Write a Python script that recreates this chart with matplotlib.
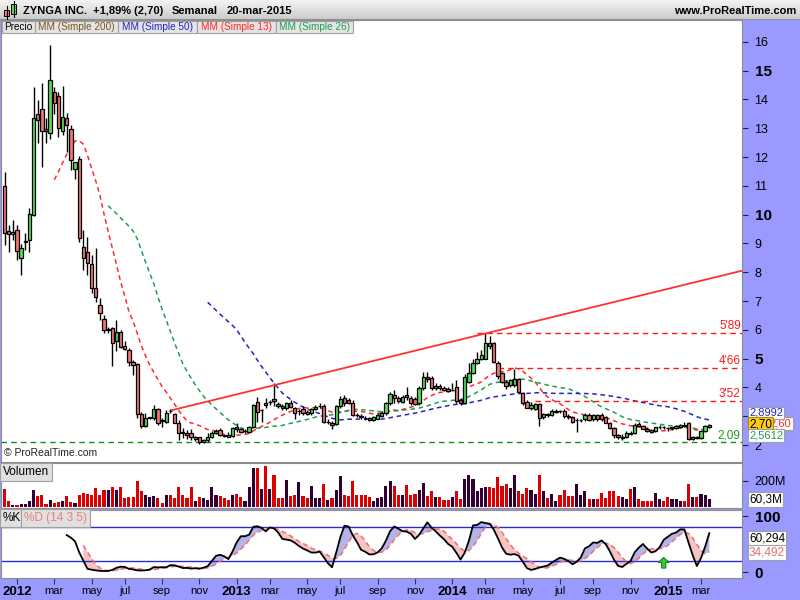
import datetime as dt
import numpy as np
import pandas as pd
import matplotlib
matplotlib.use('Agg')
import matplotlib.pyplot as plt
from matplotlib.patches import Rectangle

plt.rcParams['font.family'] = ['Liberation Sans', 'DejaVu Sans']

# === DATA: weekly bars, bar 0 = week of 12-dec-2011 (IPO week) ===
opens = [10.99, 9.44, 9.33, 9.48, 8.48, 9.05, 9.12, 9.97, 13.51, 13.65,
         12.96, 12.85, 14.25, 14.12, 12.91, 13.34, 12.96, 11.58, 11.92, 8.89,
         8.69, 8.28, 7.44, 6.86, 6.36, 5.98, 6.06, 5.60, 5.94, 5.45,
         5.31, 4.88, 4.81, 3.07, 2.66, 2.94, 2.93, 3.24, 2.86, 2.81,
         3.19, 3.07, 2.78, 2.44, 2.40, 2.40, 2.22, 2.27, 2.10, 2.18,
         2.29, 2.43, 2.52, 2.33, 2.33, 2.30, 2.64, 2.55, 2.48, 2.46,
         2.61, 3.50, 3.20, 3.45, 3.48, 3.60, 3.42, 3.35, 3.28, 3.45,
         3.27, 3.18, 3.26, 3.15, 3.12, 3.26, 3.36, 3.36, 2.80, 2.78,
         2.74, 3.37, 3.62, 3.55, 3.45, 3.05, 3.00, 2.95, 2.93, 2.88,
         2.92, 3.00, 3.10, 3.45, 3.72, 3.64, 3.50, 3.75, 3.64, 3.60,
         3.45, 3.97, 4.37, 4.31, 3.97, 4.06, 3.97, 3.95, 3.90, 4.02,
         3.56, 3.45, 4.20, 4.49, 4.83, 4.97, 5.00, 5.53, 5.53, 4.85,
         4.49, 4.20, 4.09, 4.09, 4.28, 3.81, 3.50, 3.28, 3.26, 3.42,
         2.97, 3.07, 3.04, 3.16, 3.19, 3.19, 3.01, 2.96, 2.87, 2.87,
         2.89, 3.04, 2.89, 3.04, 3.04, 2.96, 2.77, 2.58, 2.35, 2.23,
         2.27, 2.43, 2.40, 2.73, 2.66, 2.56, 2.52, 2.48, 2.62, 2.63,
         2.60, 2.58, 2.58, 2.62, 2.68, 2.75, 2.22, 2.27, 2.25, 2.50,
         2.62]
highs = [11.49, 9.63, 9.81, 9.63, 8.98, 9.35, 10.22, 14.44, 13.98, 14.56,
         13.34, 15.89, 14.44, 14.27, 14.46, 13.54, 13.11, 11.84, 12.04, 9.48,
         9.23, 8.60, 8.83, 7.09, 6.51, 6.10, 6.10, 6.34, 6.00, 5.60,
         5.37, 4.96, 4.85, 3.13, 3.11, 2.98, 3.39, 3.28, 2.93, 3.22,
         3.24, 3.11, 2.87, 2.58, 2.53, 2.54, 2.30, 2.29, 2.22, 2.40,
         2.50, 2.55, 2.58, 2.38, 2.45, 2.62, 2.75, 2.60, 2.55, 2.65,
         3.42, 3.67, 3.25, 3.62, 3.55, 4.15, 3.48, 3.42, 3.50, 3.55,
         3.32, 3.25, 3.35, 3.22, 3.30, 3.40, 3.45, 3.42, 2.90, 2.82,
         3.40, 3.70, 3.72, 3.62, 3.55, 3.12, 3.08, 3.02, 2.98, 3.00,
         3.10, 3.18, 3.50, 3.85, 3.90, 3.70, 3.72, 4.00, 3.70, 3.65,
         4.05, 4.55, 4.55, 4.40, 4.15, 4.12, 4.05, 4.00, 4.17, 4.27,
         3.62, 4.45, 4.85, 4.97, 5.24, 5.30, 5.89, 5.80, 5.58, 4.90,
         4.55, 4.25, 4.30, 4.63, 4.32, 3.85, 3.55, 3.48, 3.45, 3.45,
         3.10, 3.12, 3.25, 3.25, 3.22, 3.24, 3.08, 3.00, 2.95, 2.92,
         3.10, 3.10, 3.08, 3.08, 3.10, 3.02, 2.80, 2.62, 2.38, 2.38,
         2.48, 2.50, 2.75, 2.80, 2.70, 2.62, 2.56, 2.64, 2.68, 2.66,
         2.64, 2.64, 2.70, 2.72, 2.80, 2.80, 2.30, 2.32, 2.50, 2.68,
         2.72]
lows = [8.94, 8.71, 9.12, 8.42, 7.90, 8.77, 8.71, 9.95, 12.47, 11.66,
        12.47, 12.62, 13.51, 12.70, 12.76, 12.18, 11.56, 11.23, 9.06, 8.07,
        7.90, 7.27, 6.98, 6.34, 5.88, 5.88, 4.73, 5.25, 5.37, 5.30,
        4.73, 4.44, 2.93, 2.58, 2.64, 2.90, 2.87, 2.70, 2.64, 2.75,
        3.10, 2.75, 2.17, 2.23, 2.20, 2.18, 2.15, 2.05, 2.08, 2.12,
        2.25, 2.38, 2.30, 2.28, 2.27, 2.28, 2.46, 2.40, 2.40, 2.42,
        2.58, 2.80, 2.80, 3.30, 3.40, 3.35, 3.28, 3.20, 3.22, 3.30,
        2.90, 3.05, 3.05, 3.05, 3.05, 3.20, 3.30, 2.75, 2.72, 2.55,
        2.70, 3.30, 3.35, 3.42, 3.00, 2.98, 2.90, 2.88, 2.82, 2.85,
        2.90, 2.96, 3.05, 3.40, 3.45, 3.45, 3.45, 3.55, 3.40, 3.38,
        3.40, 3.90, 4.20, 3.90, 3.92, 3.92, 3.88, 3.85, 3.86, 3.45,
        3.40, 3.42, 4.15, 4.45, 4.80, 4.95, 4.98, 5.35, 4.85, 4.30,
        4.15, 3.95, 4.00, 4.00, 3.80, 3.40, 3.28, 3.20, 3.20, 2.66,
        2.90, 2.98, 3.00, 3.10, 3.12, 2.95, 2.92, 2.78, 2.45, 2.80,
        2.85, 2.85, 2.85, 2.85, 2.85, 2.76, 2.55, 2.25, 2.20, 2.18,
        2.25, 2.35, 2.38, 2.65, 2.55, 2.45, 2.42, 2.44, 2.55, 2.55,
        2.50, 2.52, 2.55, 2.58, 2.62, 2.18, 2.18, 2.22, 2.22, 2.46,
        2.58]
closes = [9.35, 9.33, 9.40, 8.75, 8.83, 9.10, 10.02, 13.34, 13.30, 12.89,
          12.89, 14.66, 13.86, 13.00, 13.38, 13.11, 11.90, 11.82, 9.18, 8.48,
          8.31, 7.44, 7.13, 6.57, 6.00, 6.04, 5.54, 5.94, 5.40, 5.33,
          4.88, 4.79, 3.07, 2.67, 2.93, 2.96, 3.24, 2.75, 2.83, 3.12,
          3.17, 2.78, 2.43, 2.42, 2.35, 2.28, 2.27, 2.10, 2.18, 2.29,
          2.43, 2.50, 2.33, 2.32, 2.29, 2.58, 2.55, 2.44, 2.50, 2.61,
          3.39, 3.15, 3.22, 3.38, 3.50, 3.52, 3.35, 3.28, 3.45, 3.33,
          3.12, 3.19, 3.10, 3.07, 3.26, 3.32, 3.36, 2.81, 2.81, 2.70,
          3.37, 3.58, 3.45, 3.45, 3.05, 3.03, 2.96, 2.93, 2.86, 2.97,
          3.05, 3.12, 3.45, 3.77, 3.62, 3.52, 3.68, 3.67, 3.45, 3.43,
          3.97, 4.35, 4.28, 3.97, 4.06, 3.97, 3.91, 3.89, 3.92, 3.53,
          3.47, 4.35, 4.49, 4.83, 4.97, 5.13, 5.53, 5.44, 4.89, 4.39,
          4.20, 4.05, 4.26, 4.28, 3.85, 3.47, 3.30, 3.40, 3.42, 2.93,
          3.07, 3.05, 3.19, 3.19, 3.18, 3.00, 2.96, 2.81, 2.87, 2.88,
          3.04, 2.87, 3.04, 2.89, 2.89, 2.77, 2.58, 2.35, 2.27, 2.27,
          2.43, 2.38, 2.70, 2.66, 2.56, 2.48, 2.46, 2.62, 2.63, 2.62,
          2.58, 2.61, 2.66, 2.70, 2.66, 2.22, 2.27, 2.25, 2.48, 2.65,
          2.70]
volume_m = [136, 44, 18, 18, 23, 23, 49, 133, 82, 95,
            26, 56, 31, 36, 44, 82, 36, 31, 90, 108,
            100, 95, 146, 95, 133, 133, 154, 133, 151, 69,
            77, 77, 197, 120, 90, 74, 87, 69, 31, 95,
            90, 69, 151, 95, 69, 151, 44, 77, 69, 56,
            154, 95, 82, 69, 56, 95, 103, 74, 49, 151,
            300, 300, 138, 313, 138, 244, 69, 69, 210, 82,
            95, 192, 82, 69, 159, 69, 69, 179, 56, 69,
            133, 241, 95, 82, 197, 95, 95, 95, 77, 44,
            69, 77, 159, 203, 159, 95, 95, 172, 95, 100,
            133, 185, 82, 126, 77, 77, 56, 56, 77, 126,
            64, 215, 249, 215, 126, 146, 151, 151, 146, 233,
            159, 177, 146, 249, 120, 100, 146, 133, 103, 249,
            126, 69, 100, 49, 90, 128, 82, 82, 179, 90,
            120, 61, 61, 61, 108, 69, 120, 120, 82, 77,
            61, 141, 154, 61, 44, 49, 49, 108, 61, 44,
            74, 64, 61, 49, 49, 179, 74, 74, 100, 95,
            60.3]

# drawing objects on the chart
trend_x = [40.4, 116.5]
trend_y = [3.21, 5.89]
levels = [5.89, 4.66, 3.52]
level_start = [114, 119, 128]
level_labels = ["5'89", "4'66", "3'52"]
support = 2.09
signal_week = 159

# values shown in the right-hand boxes
sma50_last = 2.8992
sma13_last = 2.60
sma26_last = 2.5612
k_last = 60.294
d_last = 34.492

months = [('2012', 2012, 1), ('mar', 2012, 3), ('may', 2012, 5), ('jul', 2012, 7),
          ('sep', 2012, 9), ('nov', 2012, 11), ('2013', 2013, 1), ('mar', 2013, 3),
          ('may', 2013, 5), ('jul', 2013, 7), ('sep', 2013, 9), ('nov', 2013, 11),
          ('2014', 2014, 1), ('mar', 2014, 3), ('may', 2014, 5), ('jul', 2014, 7),
          ('sep', 2014, 9), ('nov', 2014, 11), ('2015', 2015, 1), ('mar', 2015, 3)]
first_bar = dt.date(2011, 12, 12)

# === DERIVED ===
n = len(closes)
idx = np.arange(n)
o, h, l, c = map(np.array, (opens, highs, lows, closes))
cs = pd.Series(c)
sma13 = cs.rolling(13).mean()
sma26 = cs.rolling(26).mean()
sma50 = cs.rolling(50).mean()
hh = pd.Series(h).rolling(14).max()
ll = pd.Series(l).rolling(14).min()
k_line = (100 * (cs - ll) / (hh - ll)).rolling(3).mean()
d_line = k_line.rolling(5).mean()


def month_bar(y, m):
    d = dt.date(y, m, 1)
    while d.weekday() != 0:
        d += dt.timedelta(days=1)
    return (d - first_bar).days // 7


tick_pos = [month_bar(y, m) for _, y, m in months]
tick_lab = [t for t, _, _ in months]

# === STYLE ===
PURPLE = '#9999ff'
UP, DOWN = '#55dd55', '#f07575'
C13, C26, C50 = '#ff2a2a', '#1e9e50', '#2323c8'
SPINE = '#8c8c8c'

W, H = 800, 600
fig = plt.figure(figsize=(8, 6), dpi=100)
fig.patch.set_facecolor(PURPLE)


def px_axes(x0, y0, x1, y1):
    a = fig.add_axes([x0 / W, 1 - y1 / H, (x1 - x0) / W, (y1 - y0) / H])
    a.set_facecolor('white')
    for s in a.spines.values():
        s.set_color(SPINE)
        s.set_linewidth(0.8)
    return a


# pixel mapping: bar i centred at 4.55 + 4.1455*i
xl = ((1 - 4.55) / 4.1455, (742 - 4.55) / 4.1455)

# --- price panel ---
ax = px_axes(1, 20, 742, 462)
ax.set_xlim(*xl)
ax.set_ylim(2 - 17 / 28.8, 2 + 425 / 28.8)
up = c >= o
ax.vlines(idx, l, h, color='black', linewidth=1.0, zorder=3)
ax.bar(idx, np.abs(c - o), bottom=np.minimum(o, c), width=0.8,
       color=np.where(up, UP, DOWN), edgecolor='black', linewidth=0.9, zorder=4)
dash = (0, (3, 2.4))
ax.plot(idx, sma13, color=C13, ls=dash, lw=1.1, zorder=2)
ax.plot(idx, sma26, color=C26, ls=dash, lw=1.1, zorder=2)
ax.plot(idx, sma50, color=C50, ls=dash, lw=1.1, zorder=2)

slope = (trend_y[1] - trend_y[0]) / (trend_x[1] - trend_x[0])
ax.plot([trend_x[0], xl[1]], [trend_y[0], trend_y[0] + slope * (xl[1] - trend_x[0])],
        color='#ff3030', lw=1.3, zorder=5)
ax.hlines(levels, level_start, xl[1], colors='#ff1a1a', linestyles=(0, (4, 3)), lw=1.0, zorder=2)
for lev, lab in zip(levels, level_labels):
    ax.text(xl[1] - 0.3, lev + 0.04, lab, ha='right', va='bottom', color='#ff1a1a', fontsize=8.5)
ax.axhline(support, color='#1a8a1a', ls=(0, (4, 3)), lw=1.0, zorder=2)
ax.text(xl[1] - 0.3, support + 0.04, '2,09', ha='right', va='bottom', color='#1a9a1a', fontsize=8.5)
ax.text(0.004, 0.008, '\u00a9 ProRealTime.com', transform=ax.transAxes, fontsize=7.5,
        ha='left', va='bottom', color='#222222')

ax.set_xticks([])
ax.yaxis.tick_right()
ax.set_yticks(range(2, 17))
ax.tick_params(axis='y', direction='out', length=4, color='#222244', labelsize=9, pad=5)
for t in ax.get_yticklabels():
    if t.get_text() in ('5', '10', '15'):
        t.set_fontsize(11)
        t.set_fontweight('bold')

# right-hand value boxes (stacked like the platform does)
ytr = ax.get_yaxis_transform()
box = dict(boxstyle='square,pad=0.12', fc='white', ec='#a0a0a0', lw=0.8)
ax.annotate('2,60', xy=(1, sma13_last), xycoords=ytr, xytext=(20, 3), textcoords='offset points',
            color=C13, fontsize=8, va='center', ha='left', bbox=box, annotation_clip=False)
ax.annotate('2,8992', xy=(1, sma50_last), xycoords=ytr, xytext=(5, 4.5), textcoords='offset points',
            color=C50, fontsize=8, va='center', ha='left', bbox=box, annotation_clip=False)
ax.annotate('2,70', xy=(1, c[-1]), xycoords=ytr, xytext=(5, 0), textcoords='offset points',
            color='black', fontsize=8.5, va='center', ha='left', annotation_clip=False,
            bbox=dict(boxstyle='square,pad=0.12', fc='#ffcc11', ec='#b08a00', lw=0.8))
ax.annotate('2,5612', xy=(1, sma26_last), xycoords=ytr, xytext=(5, -5), textcoords='offset points',
            color=C26, fontsize=8, va='center', ha='left', bbox=box, annotation_clip=False)

# --- volume panel ---
av = px_axes(1, 463, 742, 508)
av.set_xlim(*xl)
av.set_ylim(-1 * 7.69, 44 * 7.69)
av.bar(idx, volume_m, width=0.75, color=np.where(up, '#330033', '#dd0000'))
av.set_xticks([])
av.yaxis.tick_right()
av.set_yticks([200])
av.set_yticklabels(['200M'])
av.tick_params(axis='y', direction='out', length=4, color='#222244', labelsize=9, pad=5)
av.annotate('60,3M', xy=(1, volume_m[-1]), xycoords=av.get_yaxis_transform(), xytext=(5, 0),
            textcoords='offset points', fontsize=8.5, va='center', ha='left', bbox=box,
            annotation_clip=False)
av.text(0.003, 0.93, 'Volumen', transform=av.transAxes, fontsize=8.5, va='top', ha='left',
        bbox=dict(boxstyle='square,pad=0.25', fc='#e0e0e0', ec='#a0a0a0', lw=0.8))

# --- stochastic panel ---
ak = px_axes(1, 510, 742, 578)
ak.set_xlim(*xl)
ak.set_ylim(-6 / 0.56, 100 + 6 / 0.56)
kv, dv = k_line.values, d_line.values
ok = ~np.isnan(dv)
ak.fill_between(idx, kv, dv, where=ok & (kv >= dv), interpolate=True, color='#b3b3e6', lw=0)
ak.fill_between(idx, kv, dv, where=ok & (kv < dv), interpolate=True, color='#f6c4c4', lw=0)
ak.axhline(80, color='#2a2ad0', lw=1.0)
ak.axhline(20, color='#2a2ad0', lw=1.0)
ak.plot(idx, dv, color='#e87878', ls=(0, (3, 2)), lw=1.2)
ak.plot(idx, kv, color='black', lw=1.3)
ak.arrow(signal_week, 7, 0, 19, width=1.0, head_width=2.6, head_length=9,
         length_includes_head=True, fc='#33cc33', ec='#1f7f1f', lw=0.8, zorder=6)
ak.yaxis.tick_right()
ak.set_yticks([0, 100])
ak.tick_params(axis='y', direction='out', length=4, color='#222244', labelsize=11, pad=5)
for t in ak.get_yticklabels():
    t.set_fontweight('bold')
ak.set_xticks(tick_pos)
ak.set_xticklabels(tick_lab)
ak.tick_params(axis='x', direction='out', length=4, color='#333366', labelsize=8, pad=2)
for t in ak.get_xticklabels():
    if t.get_text().isdigit():
        t.set_fontsize(9.5)
        t.set_fontweight('bold')
yk = ak.get_yaxis_transform()
ak.annotate('60,294', xy=(1, k_last), xycoords=yk, xytext=(5, 0), textcoords='offset points',
            fontsize=8.5, va='center', ha='left', bbox=box, annotation_clip=False)
ak.annotate('34,492', xy=(1, d_last), xycoords=yk, xytext=(5, 0), textcoords='offset points',
            color='#e07070', fontsize=8.5, va='center', ha='left', bbox=box, annotation_clip=False)
ak.text(0.002, 0.97, '%K', transform=ak.transAxes, fontsize=8.5, va='top', ha='left',
        bbox=dict(boxstyle='square,pad=0.25', fc='#e0e0e0', ec='#a0a0a0', lw=0.8))
ak.text(0.031, 0.97, '%D (14 3 5)', transform=ak.transAxes, fontsize=8.5, va='top', ha='left',
        color='#e88080', bbox=dict(boxstyle='square,pad=0.25', fc='#e0e0e0', ec='#a0a0a0', lw=0.8))

# --- header bar and legend row (pixel overlay) ---
ov = fig.add_axes([0, 0, 1, 1], zorder=10)
ov.patch.set_alpha(0)
ov.imshow(np.linspace(0.95, 0.80, 20)[:, None], cmap='gray', vmin=0, vmax=1,
          extent=(0, 800, 19, 0), aspect='auto')
ov.set_xlim(0, 800)
ov.set_ylim(600, 0)
ov.axis('off')
ov.plot([0, 800], [19, 19], color='#909090', lw=0.8)
# little candle icon
ov.plot([6.5, 6.5], [6, 19], color='black', lw=0.8)
ov.add_patch(Rectangle((4, 9.5), 5, 6.5, fc='#f07575', ec='black', lw=0.7))
ov.plot([13.5, 13.5], [1, 17], color='black', lw=0.8)
ov.add_patch(Rectangle((11, 3.5), 5, 10, fc='#55dd55', ec='black', lw=0.7))
for xs, txt in [(23, 'ZYNGA INC.'), (93, '+1,89% (2,70)'), (172, 'Semanal'), (227, '20-mar-2015')]:
    ov.text(xs, 11, txt, fontsize=8, fontweight='bold', va='center', ha='left')
ov.text(796, 11, 'www.ProRealTime.com', fontsize=8, fontweight='bold', va='center', ha='right')

legend = [('Precio', 'black', 2, 35), ('MM (Simple 200)', '#7a5520', 35, 118),
          ('MM (Simple 50)', C50, 118, 197), ('MM (Simple 13)', C13, 197, 276),
          ('MM (Simple 26)', C26, 276, 353)]
for txt, col, x0, x1 in legend:
    ov.add_patch(Rectangle((x0, 20.5), x1 - x0, 12.5, fc='#e4e4e4', ec='#a0a0a0', lw=0.8))
    ov.text((x0 + x1) / 2, 27, txt, color=col, fontsize=7.2, ha='center', va='center')

fig.savefig('out.png', dpi=100, facecolor=fig.get_facecolor())
